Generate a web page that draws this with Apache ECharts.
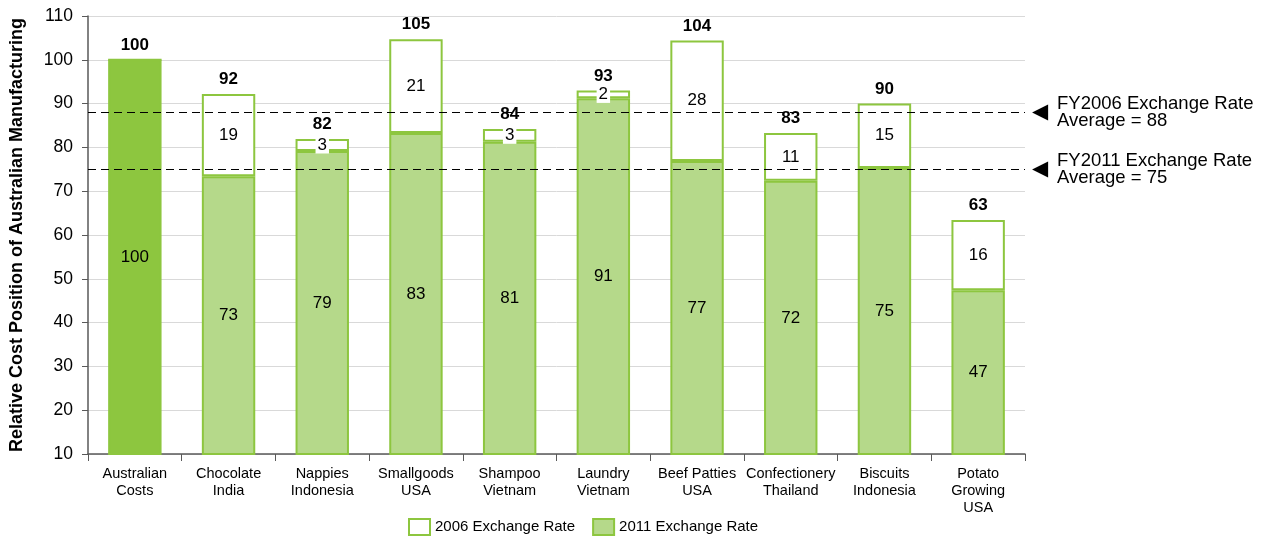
<!DOCTYPE html>
<html><head><meta charset="utf-8">
<script src="https://cdn.jsdelivr.net/npm/echarts@6/dist/echarts.min.js"></script>
<style>html,body{margin:0;padding:0;background:#fff}#c{width:1271px;height:544px}</style>
</head><body><div id="c"></div>
<script>
const categories = ['Australian\nCosts','Chocolate\nIndia','Nappies\nIndonesia','Smallgoods\nUSA','Shampoo\nVietnam','Laundry\nVietnam','Beef Patties\nUSA','Confectionery\nThailand','Biscuits\nIndonesia','Potato\nGrowing\nUSA'];
const rate2011 = [100, 73.4, 79.2, 83.3, 81.3, 91.2, 76.9, 72.4, 75.3, 47.4];
const rate2006Extra = [0, 18.8, 2.7, 21.4, 2.9, 1.8, 27.5, 10.9, 14.7, 16.0];
const avgFY2006 = 88;
const avgFY2011 = 75;
const yTicks = {min: 10, max: 110, interval: 10};

const FONT = 'Liberation Sans, Arial, sans-serif';
const DARK = '#8DC63F', LIGHT = '#B5D98A';
const totals = rate2011.map((v, i) => v + rate2006Extra[i]);

const chart = echarts.init(document.getElementById('c'));
const bottomData = rate2011.map((v, i) => i === 0
  ? {value: v, itemStyle: {color: DARK, borderColor: DARK}}
  : {value: v});
const topData = rate2006Extra.map(v => v < 5
  ? {value: v, label: {backgroundColor: '#fff', padding: [0, 2, 0, 2]}}
  : {value: v});

function refLine(val, text) {
  return [
    {yAxis: val, lineStyle: {color: '#000', type: [8, 5], width: 1.2},
     label: {show: true, position: 'end', distance: 7, formatter: '◀', fontFamily: 'DejaVu Sans', fontSize: 21, color: '#000'}},
    {yAxis: val, lineStyle: {color: 'rgba(0,0,0,0)', width: 0},
     label: {show: true, position: 'end', distance: 32, formatter: text, fontFamily: FONT, fontSize: 18.5, color: '#000', align: 'left', lineHeight: 17.5, padding: [0, 0, 6, 0]}}
  ];
}

chart.setOption({
  animation: false,
  grid: {left: 88, right: 246, top: 16, bottom: 90, containLabel: false, outerBoundsMode: 'none'},
  legend: {
    bottom: 3, left: 403, itemWidth: 21, itemHeight: 16, itemGap: 17,
    textStyle: {fontFamily: FONT, fontSize: 15, color: '#000'},
    data: [{name: '2006 Exchange Rate', icon: 'rect'}, {name: '2011 Exchange Rate', icon: 'rect'}]
  },
  xAxis: {
    type: 'category', data: categories,
    axisLine: {lineStyle: {color: '#595959', width: 1.5}},
    axisTick: {show: true, length: 7, lineStyle: {color: '#595959'}},
    axisLabel: {fontFamily: FONT, fontSize: 14.5, color: '#000', margin: 11, lineHeight: 17, interval: 0}
  },
  yAxis: {
    type: 'value', min: yTicks.min, max: yTicks.max, interval: yTicks.interval,
    name: 'Relative Cost Position of Australian Manufacturing',
    nameLocation: 'middle', nameGap: 62,
    nameTextStyle: {fontFamily: FONT, fontSize: 18, fontWeight: 'bold', color: '#000'},
    axisLine: {show: true, lineStyle: {color: '#595959', width: 1.5}},
    axisTick: {show: true, length: 6, lineStyle: {color: '#595959'}},
    axisLabel: {fontFamily: FONT, fontSize: 17.5, color: '#000', margin: 15},
    splitLine: {lineStyle: {color: '#D9D9D9'}}
  },
  series: [
    {
      name: '2011 Exchange Rate', type: 'bar', stack: 's', barWidth: '57%',
      data: bottomData,
      itemStyle: {color: LIGHT, borderColor: DARK, borderWidth: 2},
      label: {show: true, position: 'inside', fontFamily: FONT, fontSize: 17, color: '#000',
        formatter: p => Math.round(p.value)},
      markLine: {silent: true, symbol: ['none', 'none'],
        data: [...refLine(avgFY2006, 'FY2006 Exchange Rate\nAverage = 88'), ...refLine(avgFY2011, 'FY2011 Exchange Rate\nAverage = 75')]}
    },
    {
      name: '2006 Exchange Rate', type: 'bar', stack: 's', barWidth: '57%',
      data: topData,
      itemStyle: {color: '#fff', borderColor: DARK, borderWidth: 2},
      label: {show: true, position: 'inside', fontFamily: FONT, fontSize: 17, color: '#000',
        formatter: p => p.value > 0 ? Math.round(p.value) : ''}
    },
    {
      name: 'total', type: 'bar', stack: 's', barWidth: '57%',
      data: totals.map(() => 0),
      itemStyle: {color: 'transparent'},
      label: {show: true, position: 'top', distance: 6, fontFamily: FONT, fontSize: 17, fontWeight: 'bold', color: '#000',
        formatter: p => Math.round(totals[p.dataIndex])}
    }
  ]
});
</script></body></html>
